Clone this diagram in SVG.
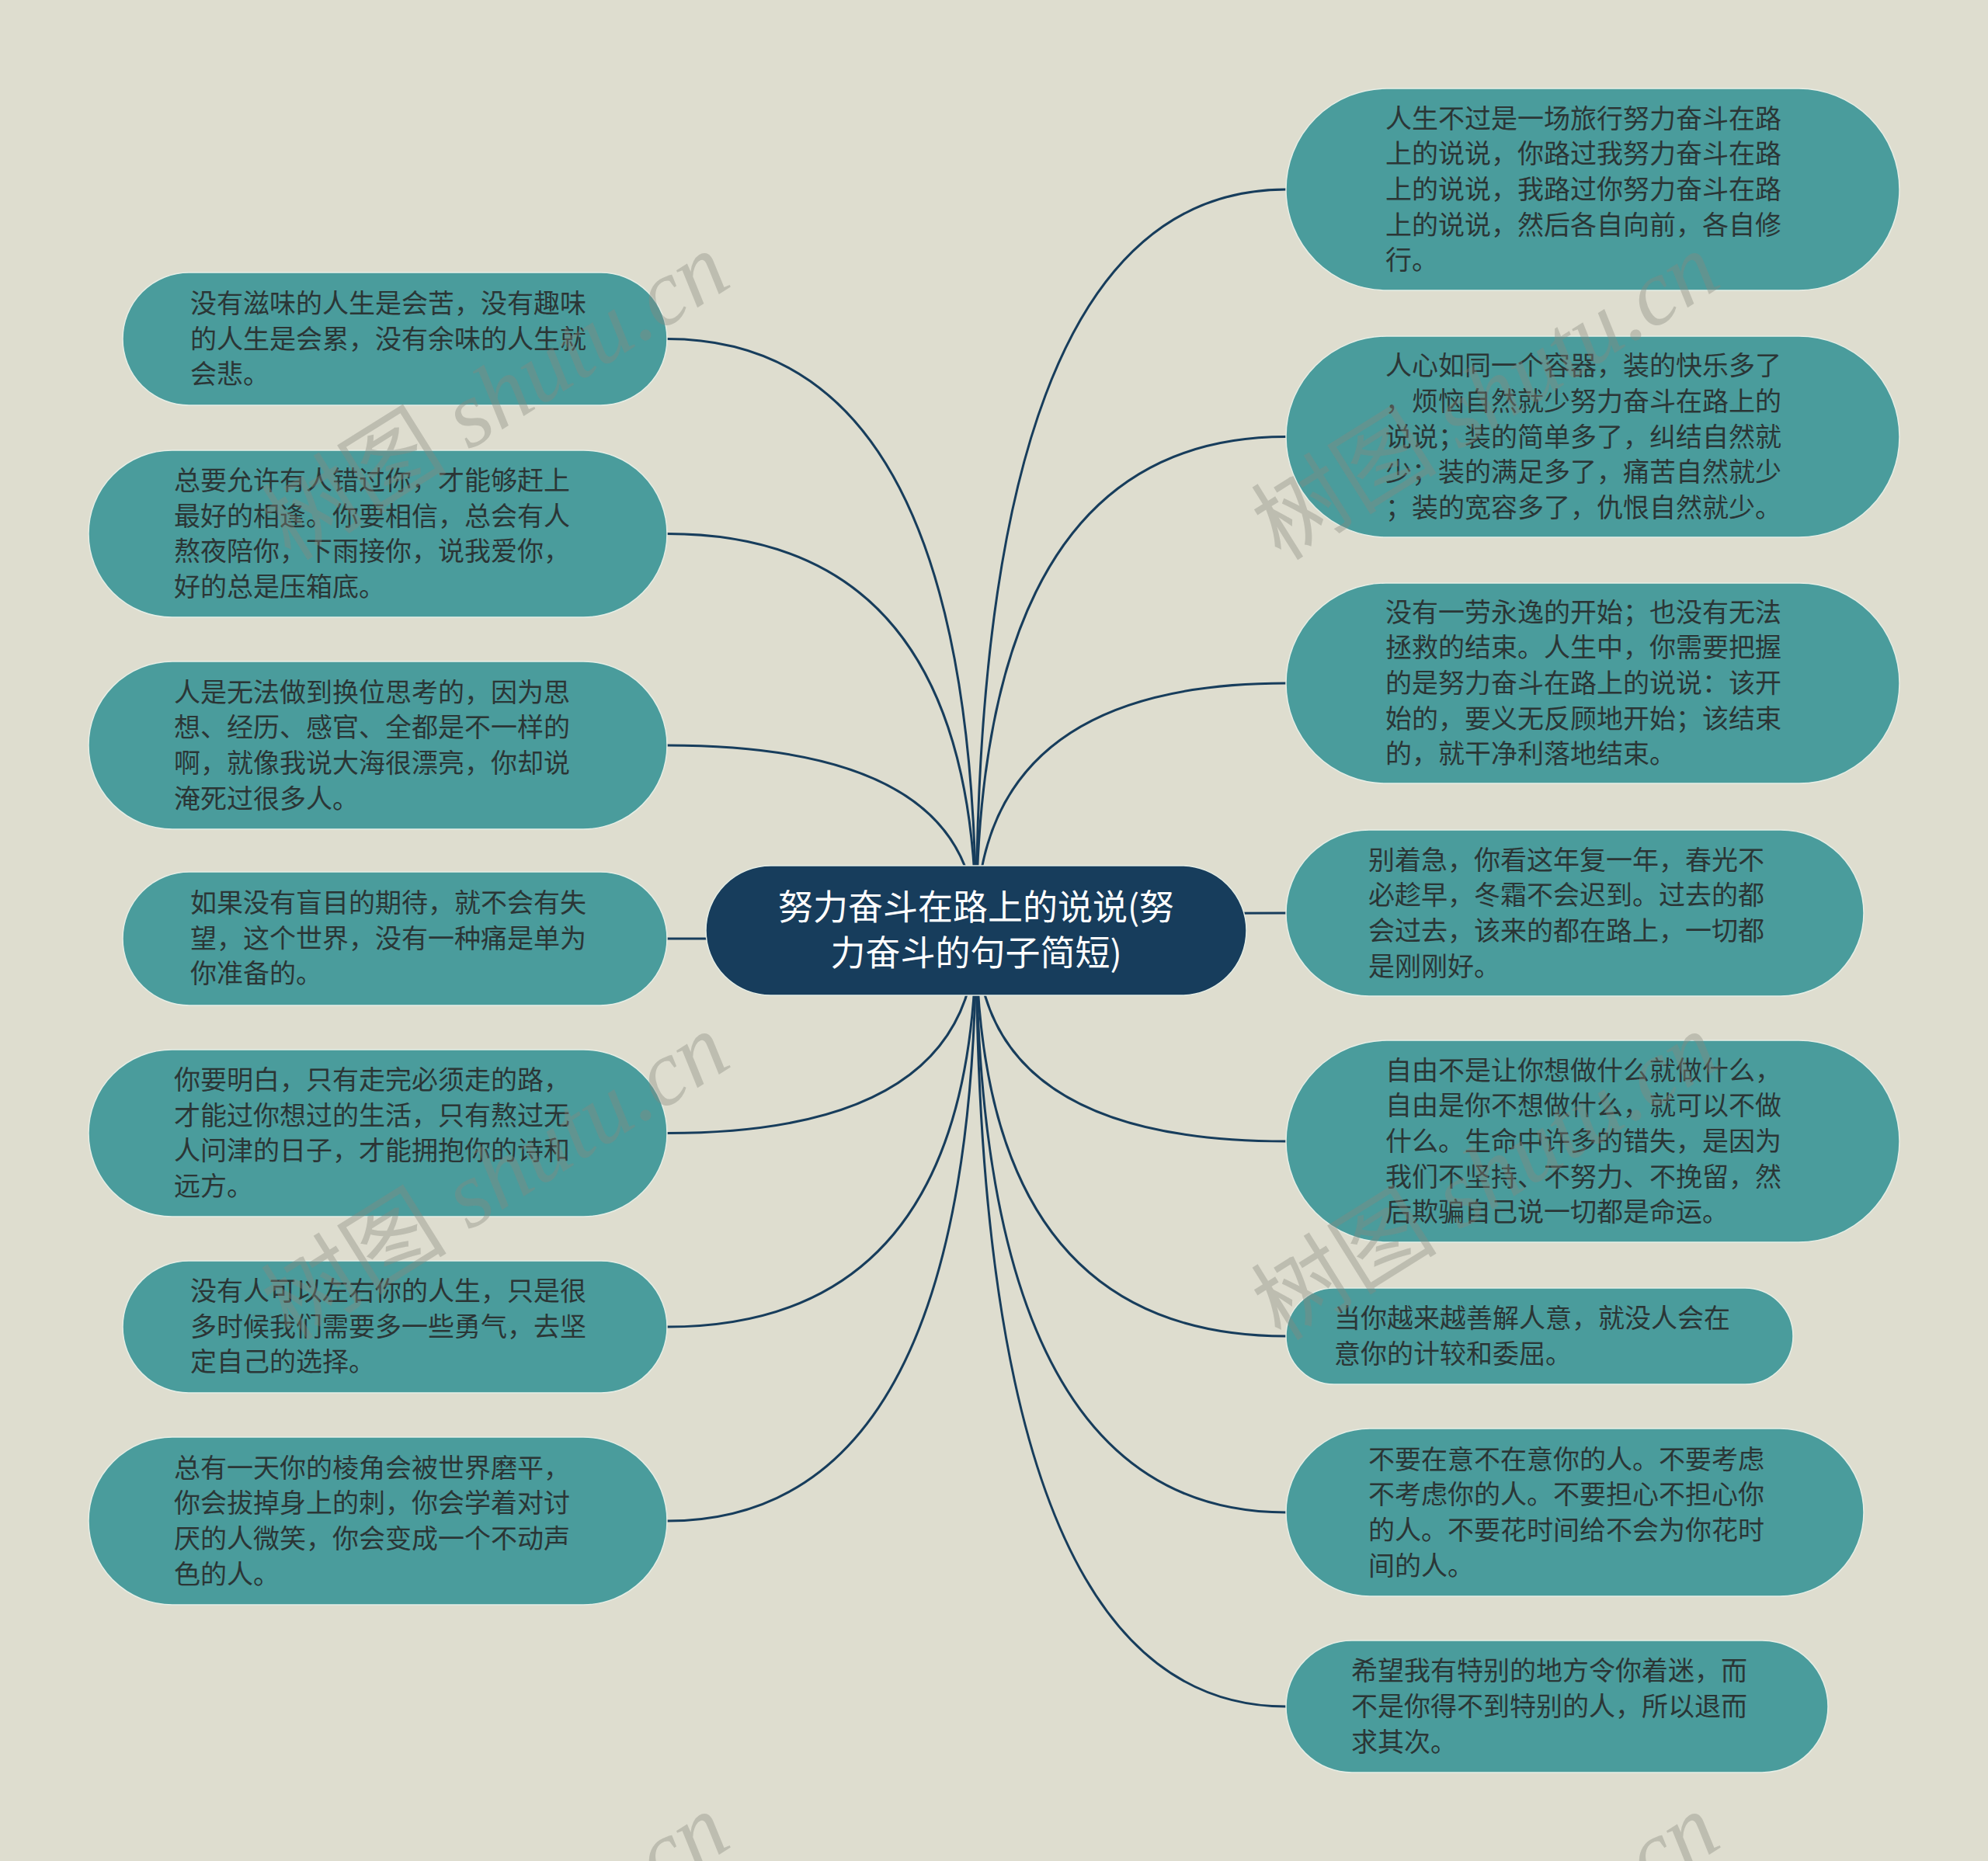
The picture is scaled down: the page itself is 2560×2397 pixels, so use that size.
<svg xmlns="http://www.w3.org/2000/svg" width="2560" height="2397" viewBox="0 0 2560 2397">
<defs>
<style>
.bg{fill:#DEDDCF}
.node rect{fill:#4A9C9C;stroke:#E6EEE6;stroke-width:1.5}
.node text{font-family:"Noto Sans CJK SC","Liberation Sans",sans-serif;font-size:34px;fill:#2B3636}
.root rect{fill:#173D5C;stroke:#E6EEE6;stroke-width:1.5}
.root text{font-family:"Noto Sans CJK SC","Liberation Sans",sans-serif;font-size:45px;fill:#FFFFFF;text-anchor:middle}
.links path{fill:none;stroke:#173D5C;stroke-width:3}
.wm text{font-family:"Liberation Serif","Noto Sans CJK SC",serif;font-size:120px;fill:#8A8A7E;fill-opacity:0.38;text-anchor:middle}
</style>
</defs>
<rect class="bg" x="0" y="0" width="2560" height="2397"/>
<g class="links">
<path d="M1257 1198 Q1257 436.5 859 436.5"/>
<path d="M1257 1198 Q1257 687.5 859 687.5"/>
<path d="M1257 1198 Q1257 960 859 960"/>
<path d="M1257 1198 Q1257 1209 859 1209"/>
<path d="M1257 1198 Q1257 1459.5 859 1459.5"/>
<path d="M1257 1198 Q1257 1709 859 1709"/>
<path d="M1257 1198 Q1257 1959 859 1959"/>
<path d="M1257 1198 Q1257 244 1656 244"/>
<path d="M1257 1198 Q1257 562.5 1656 562.5"/>
<path d="M1257 1198 Q1257 880 1656 880"/>
<path d="M1257 1198 Q1257 1176 1656 1176"/>
<path d="M1257 1198 Q1257 1470 1656 1470"/>
<path d="M1257 1198 Q1257 1721 1656 1721"/>
<path d="M1257 1198 Q1257 1948 1656 1948"/>
<path d="M1257 1198 Q1257 2198 1656 2198"/>
</g>
<g id="root" class="root">
<rect x="909" y="1115" width="696" height="167" rx="83.5"/>
<text x="1257" y="1185">努力奋斗在路上的说说(努</text>
<text x="1257" y="1244">力奋斗的句子简短)</text>
</g>
<g id="L1" class="node">
<rect x="158" y="351" width="701" height="171" rx="85.5"/>
<text x="245" y="403"><tspan x="245">没有滋味的人生是会苦，没有趣味</tspan><tspan x="245" dy="45.7">的人生是会累，没有余味的人生就</tspan><tspan x="245" dy="45.7">会悲。</tspan></text>
</g>
<g id="L2" class="node">
<rect x="114" y="580" width="745" height="215" rx="107.5"/>
<text x="224" y="631"><tspan x="224">总要允许有人错过你，才能够赶上</tspan><tspan x="224" dy="45.7">最好的相逢。你要相信，总会有人</tspan><tspan x="224" dy="45.7">熬夜陪你，下雨接你，说我爱你，</tspan><tspan x="224" dy="45.7">好的总是压箱底。</tspan></text>
</g>
<g id="L3" class="node">
<rect x="114" y="852" width="745" height="216" rx="108"/>
<text x="224" y="903.5"><tspan x="224">人是无法做到换位思考的，因为思</tspan><tspan x="224" dy="45.7">想、经历、感官、全都是不一样的</tspan><tspan x="224" dy="45.7">啊，就像我说大海很漂亮，你却说</tspan><tspan x="224" dy="45.7">淹死过很多人。</tspan></text>
</g>
<g id="L4" class="node">
<rect x="158" y="1123" width="701" height="172" rx="86"/>
<text x="245" y="1175"><tspan x="245">如果没有盲目的期待，就不会有失</tspan><tspan x="245" dy="45.7">望，这个世界，没有一种痛是单为</tspan><tspan x="245" dy="45.7">你准备的。</tspan></text>
</g>
<g id="L5" class="node">
<rect x="114" y="1352" width="745" height="215" rx="107.5"/>
<text x="224" y="1403"><tspan x="224">你要明白，只有走完必须走的路，</tspan><tspan x="224" dy="45.7">才能过你想过的生活，只有熬过无</tspan><tspan x="224" dy="45.7">人问津的日子，才能拥抱你的诗和</tspan><tspan x="224" dy="45.7">远方。</tspan></text>
</g>
<g id="L6" class="node">
<rect x="158" y="1624" width="701" height="170" rx="85"/>
<text x="245" y="1675"><tspan x="245">没有人可以左右你的人生，只是很</tspan><tspan x="245" dy="45.7">多时候我们需要多一些勇气，去坚</tspan><tspan x="245" dy="45.7">定自己的选择。</tspan></text>
</g>
<g id="L7" class="node">
<rect x="114" y="1851" width="745" height="216" rx="108"/>
<text x="224" y="1902.5"><tspan x="224">总有一天你的棱角会被世界磨平，</tspan><tspan x="224" dy="45.7">你会拔掉身上的刺，你会学着对讨</tspan><tspan x="224" dy="45.7">厌的人微笑，你会变成一个不动声</tspan><tspan x="224" dy="45.7">色的人。</tspan></text>
</g>
<g id="R1" class="node">
<rect x="1656" y="114" width="790" height="260" rx="130"/>
<text x="1784" y="164.6"><tspan x="1784">人生不过是一场旅行努力奋斗在路</tspan><tspan x="1784" dy="45.7">上的说说，你路过我努力奋斗在路</tspan><tspan x="1784" dy="45.7">上的说说，我路过你努力奋斗在路</tspan><tspan x="1784" dy="45.7">上的说说，然后各自向前，各自修</tspan><tspan x="1784" dy="45.7">行。</tspan></text>
</g>
<g id="R2" class="node">
<rect x="1656" y="433" width="790" height="259" rx="129.5"/>
<text x="1784" y="483.1"><tspan x="1784">人心如同一个容器，装的快乐多了</tspan><tspan x="1784" dy="45.7">，烦恼自然就少努力奋斗在路上的</tspan><tspan x="1784" dy="45.7">说说；装的简单多了，纠结自然就</tspan><tspan x="1784" dy="45.7">少；装的满足多了，痛苦自然就少</tspan><tspan x="1784" dy="45.7">；装的宽容多了，仇恨自然就少。</tspan></text>
</g>
<g id="R3" class="node">
<rect x="1656" y="751" width="790" height="258" rx="129"/>
<text x="1784" y="800.6"><tspan x="1784">没有一劳永逸的开始；也没有无法</tspan><tspan x="1784" dy="45.7">拯救的结束。人生中，你需要把握</tspan><tspan x="1784" dy="45.7">的是努力奋斗在路上的说说：该开</tspan><tspan x="1784" dy="45.7">始的，要义无反顾地开始；该结束</tspan><tspan x="1784" dy="45.7">的，就干净利落地结束。</tspan></text>
</g>
<g id="R4" class="node">
<rect x="1656" y="1069" width="744" height="214" rx="107"/>
<text x="1762" y="1119.5"><tspan x="1762">别着急，你看这年复一年，春光不</tspan><tspan x="1762" dy="45.7">必趁早，冬霜不会迟到。过去的都</tspan><tspan x="1762" dy="45.7">会过去，该来的都在路上，一切都</tspan><tspan x="1762" dy="45.7">是刚刚好。</tspan></text>
</g>
<g id="R5" class="node">
<rect x="1656" y="1340" width="790" height="260" rx="130"/>
<text x="1784" y="1390.6"><tspan x="1784">自由不是让你想做什么就做什么，</tspan><tspan x="1784" dy="45.7">自由是你不想做什么，就可以不做</tspan><tspan x="1784" dy="45.7">什么。生命中许多的错失，是因为</tspan><tspan x="1784" dy="45.7">我们不坚持、不努力、不挽留，然</tspan><tspan x="1784" dy="45.7">后欺骗自己说一切都是命运。</tspan></text>
</g>
<g id="R6" class="node">
<rect x="1656" y="1659" width="653" height="124" rx="62"/>
<text x="1718" y="1710.2"><tspan x="1718">当你越来越善解人意，就没人会在</tspan><tspan x="1718" dy="45.7">意你的计较和委屈。</tspan></text>
</g>
<g id="R7" class="node">
<rect x="1656" y="1840" width="744" height="216" rx="108"/>
<text x="1762" y="1891.5"><tspan x="1762">不要在意不在意你的人。不要考虑</tspan><tspan x="1762" dy="45.7">不考虑你的人。不要担心不担心你</tspan><tspan x="1762" dy="45.7">的人。不要花时间给不会为你花时</tspan><tspan x="1762" dy="45.7">间的人。</tspan></text>
</g>
<g id="R8" class="node">
<rect x="1656" y="2113" width="698" height="170" rx="85"/>
<text x="1740" y="2164.3"><tspan x="1740">希望我有特别的地方令你着迷，而</tspan><tspan x="1740" dy="45.7">不是你得不到特别的人，所以退而</tspan><tspan x="1740" dy="45.7">求其次。</tspan></text>
</g>
<g class="wm">
<text transform="translate(660 545) rotate(-32)">树图 <tspan font-style="italic">shutu.cn</tspan></text>
<text transform="translate(1935 545) rotate(-32)">树图 <tspan font-style="italic">shutu.cn</tspan></text>
<text transform="translate(660 1550) rotate(-32)">树图 <tspan font-style="italic">shutu.cn</tspan></text>
<text transform="translate(1935 1550) rotate(-32)">树图 <tspan font-style="italic">shutu.cn</tspan></text>
<text transform="translate(660 2555) rotate(-32)">树图 <tspan font-style="italic">shutu.cn</tspan></text>
<text transform="translate(1935 2555) rotate(-32)">树图 <tspan font-style="italic">shutu.cn</tspan></text>
</g>
</svg>
